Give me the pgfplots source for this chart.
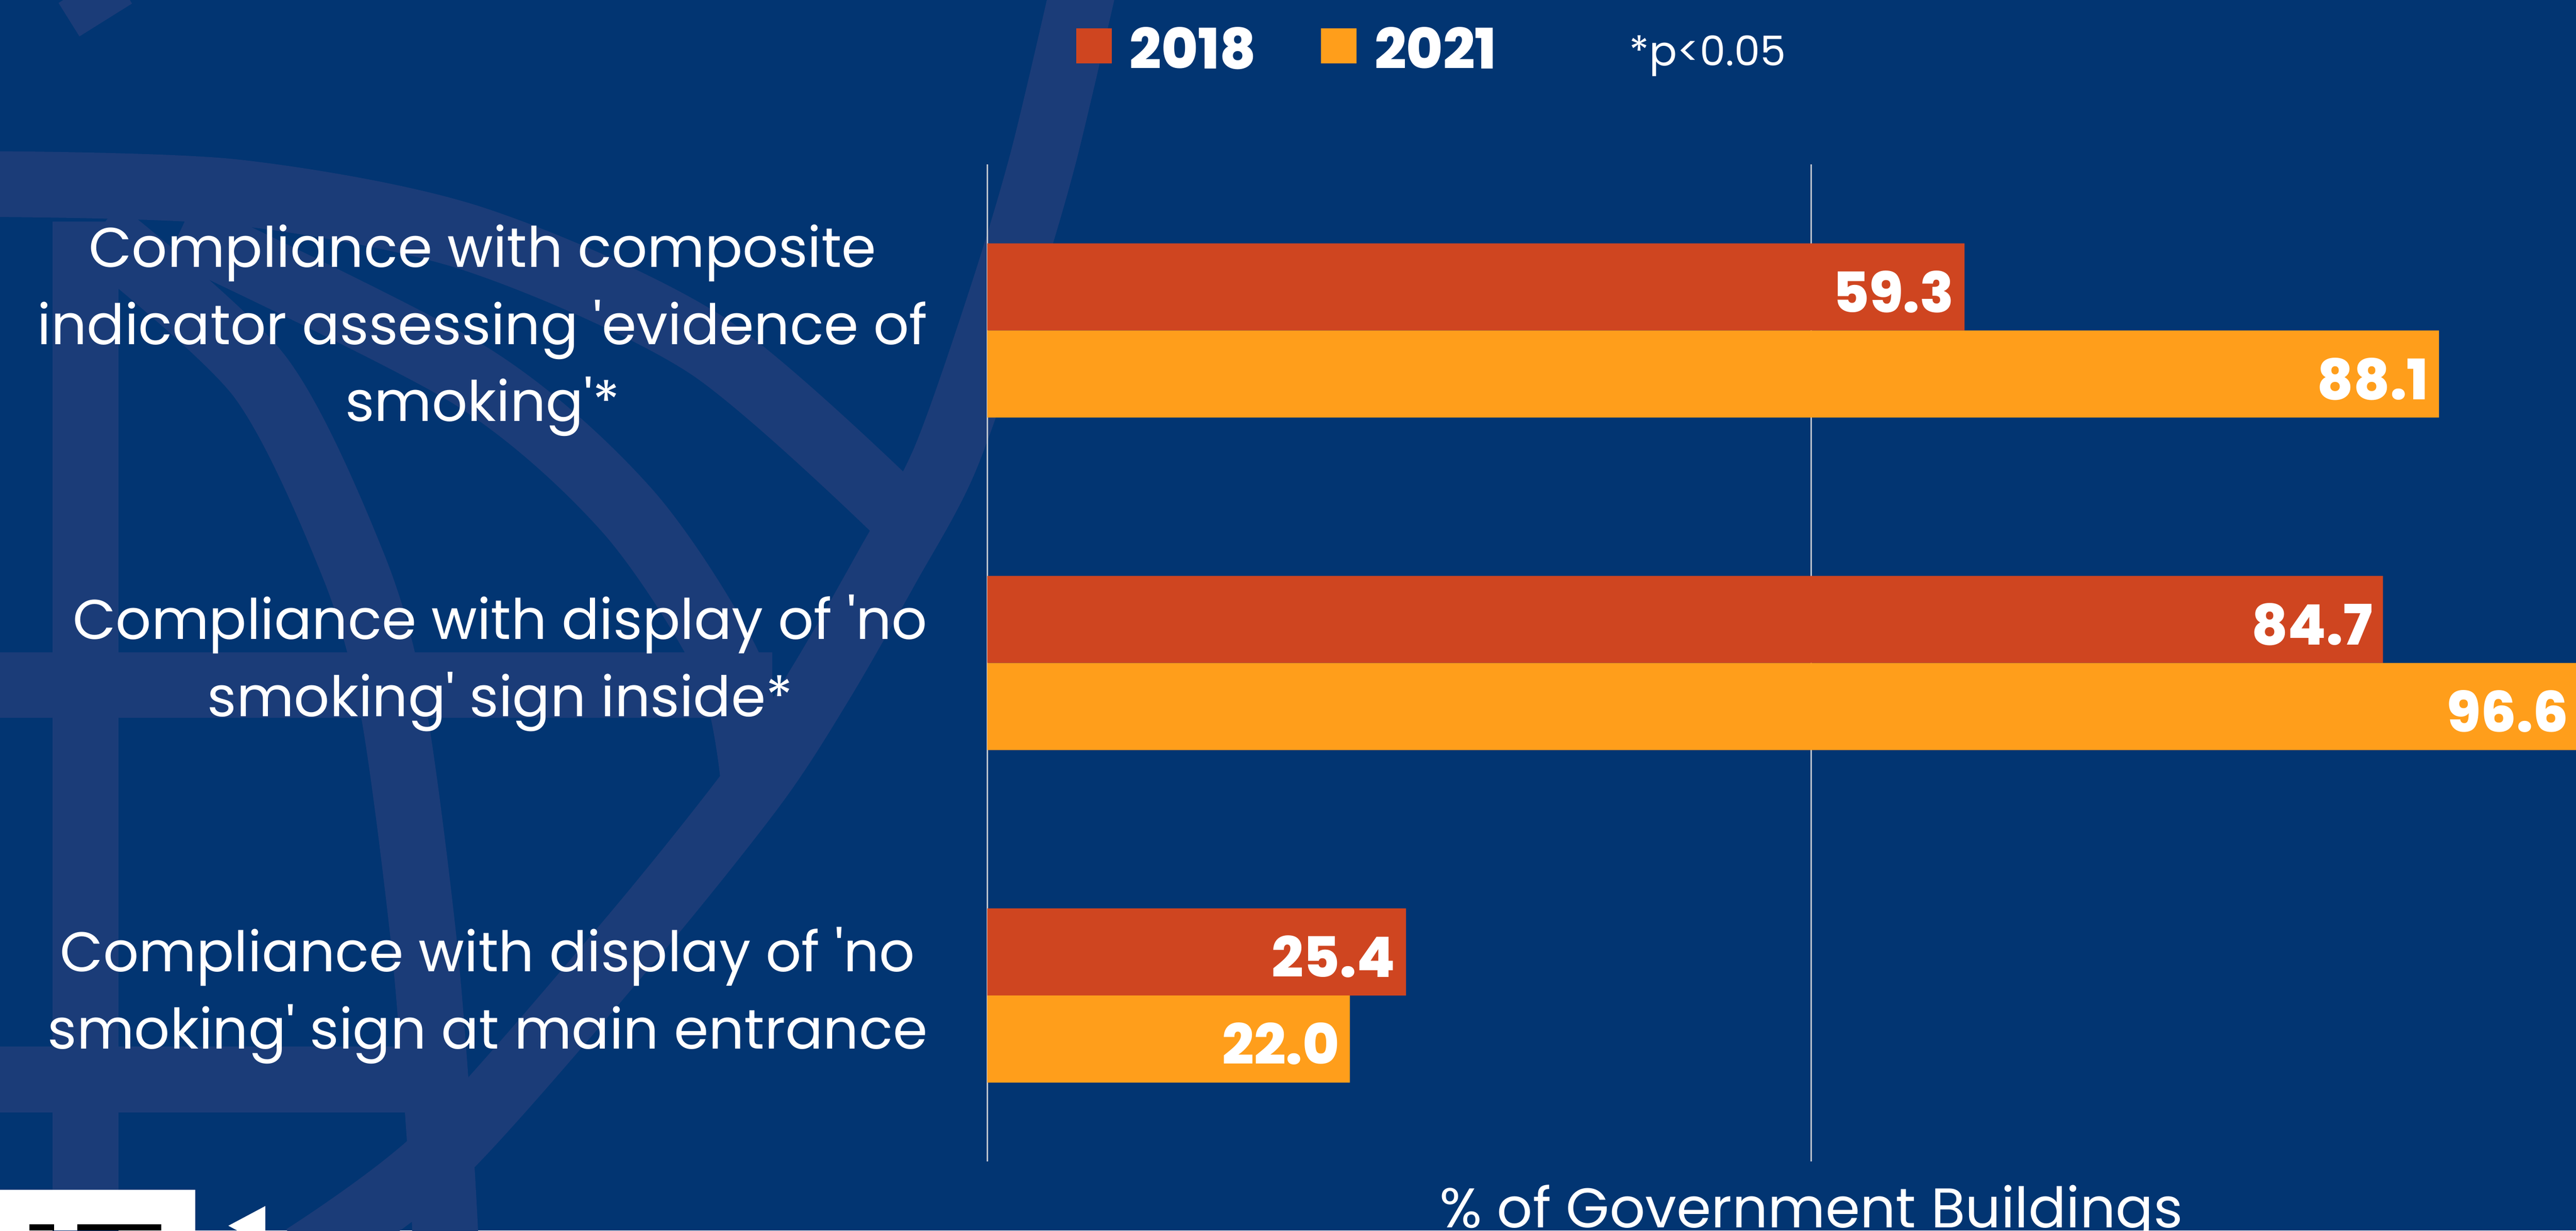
\documentclass[border=0pt]{standalone}
\usepackage{pgfplots}
\pgfplotsset{compat=1.18}
\usepackage{fontspec}
\setmainfont{Poppins}
\newfontfamily\heavy{Poppins ExtraBold}
\definecolor{bg}{HTML}{023572}
\definecolor{wm}{HTML}{1B3C78}
\definecolor{c18}{HTML}{CF4520}
\definecolor{c21}{HTML}{FF9E1B}
\definecolor{gridc}{HTML}{B8C0CC}
\newcommand{\q}{\textquotesingle}
\begin{document}
\begin{tikzpicture}
\fill[bg] (0,0) rectangle (784pt,374.5pt);
\useasboundingbox (0,0) rectangle (784pt,374.5pt);
% decorative watermark (globe)
\begin{scope}[x=0.5pt,y=-0.5pt,yshift=374.5pt,draw=wm,line width=20pt]
\draw (52,135) -- (52,770);
\draw (-10,417) -- (470,417);
\draw (-10,657) -- (268,657);
\draw plot[smooth] coordinates {(-10,112) (143,117) (287,145) (430,210) (550,315)};
\draw plot[smooth] coordinates {(660,-10) (635,96) (610,180) (575,280) (540,345) (500,415) (459,478) (382,574) (268,703) (185,765)};
\draw plot[smooth] coordinates {(60,140) (158,229) (215,344) (239,430) (258,573) (268,698) (272,770)};
\draw plot[smooth] coordinates {(110,140) (287,229) (382,311) (444,406) (459,478)};
\draw[line width=12pt] (42,12) -- (74,-8);
\end{scope}
\begin{axis}[
  at={(300.5pt,21pt)}, anchor=south west,
  scale only axis, width=501.5pt, height=303.5pt,
  xmin=0, xmax=100, ymin=-0.5, ymax=2.5,
  xbar, bar width=26.5pt,
  axis line style={draw=none},
  major tick length=0pt,
  xtick={0,50}, xticklabels={},
  xmajorgrids, major grid style={gridc, line width=0.5pt},
  ytick={0,1,2},
  yticklabels={{Compliance with display of \q no\\smoking\q{} sign at main entrance},{Compliance with display of \q no\\smoking\q{} sign inside*},{Compliance with composite\\indicator assessing \q evidence of\\smoking\q*}},
  yticklabel style={align=center, text=white, font=\fontsize{17}{23.5}\selectfont, inner sep=0pt, xshift=-18pt},
  xlabel={\% of Government Buildings},
  xlabel style={at={(axis description cs:0.5,0)}, anchor=base, yshift=-20pt, text=white, font=\fontsize{17}{20}\selectfont},
  nodes near coords,
  every node near coord/.append style={text=white, font=\heavy\fontsize{17}{20}\selectfont, anchor=east, inner sep=0pt, xshift=-3pt, yshift=-1.5pt},
  /pgf/number format/fixed, /pgf/number format/fixed zerofill, /pgf/number format/precision=1, /pgf/number format/assume math mode=true,
  legend columns=2,
  legend image code/.code={\fill[#1] (0pt,-4pt) rectangle (10.75pt,6.75pt);},
  legend style={at={(axis description cs:0.0536,1.1143)}, anchor=west, draw=none, fill=none, text=white, font=\heavy\fontsize{17}{20}\selectfont, inner sep=0pt, nodes={inner sep=0pt}, /tikz/every odd column/.append style={column sep=5.5pt}, /tikz/every even column/.append style={column sep=19.75pt}},
]
\addplot[fill=c18, draw=none, bar shift=13.25pt] coordinates {(25.4,0) (84.7,1) (59.3,2)};
\addplot[fill=c21, draw=none, bar shift=-13.25pt] coordinates {(22.0,0) (96.6,1) (88.1,2)};
\legend{2018,2021}
\end{axis}
\node[anchor=base west, text=white, inner sep=0pt, font=\fontsize{12.5}{14}\selectfont] at (495.75pt,354.5pt) {*p<0.05};
% partial logo at bottom left
\fill[white] (0,0) rectangle (59.5pt,12.5pt);
\fill[black] (9pt,0) rectangle (16.5pt,2pt);
\fill[black] (23.5pt,0) rectangle (49pt,2pt);
\fill[white] (69.5pt,1.5pt) -- (80.75pt,7.5pt) -- (80.75pt,-4.5pt) -- cycle;
\end{tikzpicture}
\end{document}
